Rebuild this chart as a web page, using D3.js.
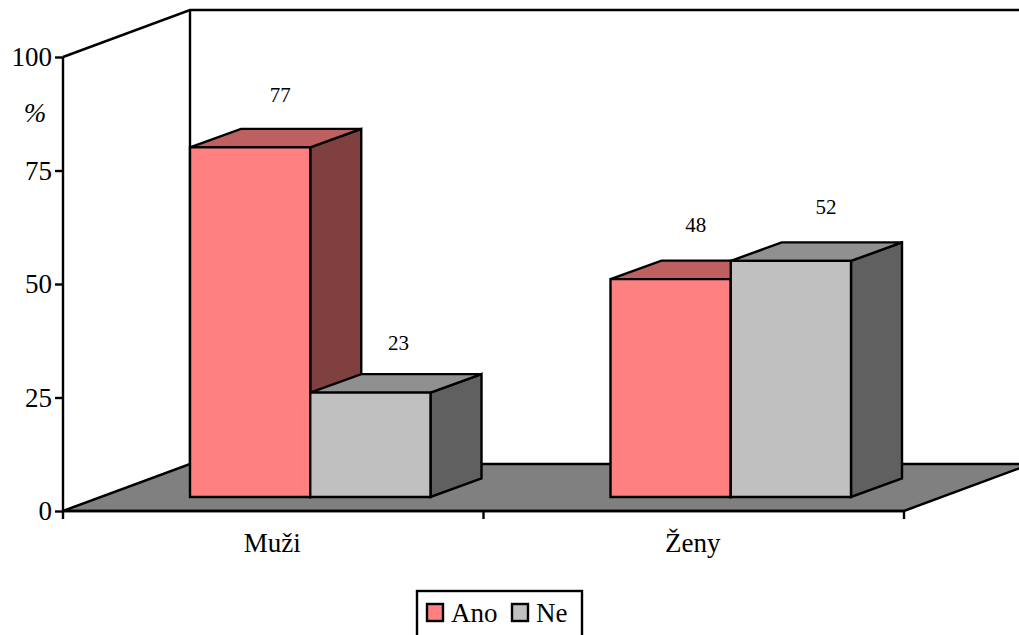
<!DOCTYPE html>
<html><head><meta charset="utf-8">
<script src="https://cdnjs.cloudflare.com/ajax/libs/d3/7.8.5/d3.min.js"></script>
<style>html,body{margin:0;padding:0;background:#fff}svg{display:block}text{font-family:"Liberation Serif",serif;fill:#000}</style>
</head><body><svg id="c" width="1019" height="635"></svg>
<script>
const categories = ["Muži", "Ženy"];
const seriesNames = ["Ano", "Ne"];
const ano = [77, 48];
const ne = [23, 52];
const valueTicks = [0, 25, 50, 75, 100];
const axisTitle = "%";
const labelNudge = {Ano: [[30, 0], [25, 2]], Ne: [[28, -2], [35, 2]]};
const colors = {Ano: {front: "#FF8080", top: "#BF6060", side: "#804040"}, Ne: {front: "#C0C0C0", top: "#909090", side: "#606060"}};

const W = 1019, H = 635, SW = 2.4;
const svg = d3.select("#c");
const y = d3.scaleLinear().domain([0, 100]).range([511, 57]);
const x0 = d3.scaleBand().domain(categories).range([63, 904]).paddingInner(0).paddingOuter(0);
const gapFrac = 90 / 420.5;
const barW = x0.bandwidth() * (1 - 2 * gapFrac) / 2;
const wall = {dx: 127, dy: -47};
const barFront = {dx: 37, dy: -14};
const barDepth = {dx: 51, dy: -18.5};
const line = d3.line();
const poly = (pts, fill) => svg.append("path").attr("d", line(pts) + "Z").attr("fill", fill).attr("stroke", "#000").attr("stroke-width", SW).attr("stroke-linejoin", "miter");

const [xL, xR] = x0.range();
const y0 = y(0), y100 = y(100);
// walls
svg.append("path").attr("d", line([[xL, y100], [xL + wall.dx, y100 + wall.dy], [W, y100 + wall.dy]])).attr("fill", "none").attr("stroke", "#000").attr("stroke-width", SW);
svg.append("path").attr("d", line([[xL + wall.dx, y100 + wall.dy], [xL + wall.dx, y0 + wall.dy]])).attr("fill", "none").attr("stroke", "#000").attr("stroke-width", SW);
// floor
svg.append("path").attr("d", line([[xL, y0], [xL + wall.dx, y0 + wall.dy], [xR + wall.dx, y0 + wall.dy], [xR, y0]]) + "Z").attr("fill", "#808080").attr("stroke", "#000").attr("stroke-width", SW);
// axes
const yAxis = d3.axisLeft(y).tickValues(valueTicks).tickSize(8).tickPadding(3);
const gy = svg.append("g").attr("transform", `translate(${xL},0)`).call(yAxis);
gy.selectAll("path,line").attr("stroke", "#000").attr("stroke-width", SW);
gy.selectAll("path").attr("d", `M0,${y100}V${y0}`);
gy.selectAll("text").attr("font-family", "Liberation Serif").attr("font-size", 27).attr("fill", "#000");
svg.append("path").attr("d", line([[xL, y0], [xR, y0]])).attr("stroke", "#000").attr("stroke-width", SW);
const xTicks = [xL, xL + x0.bandwidth(), xR];
svg.selectAll("line.xt").data(xTicks).enter().append("line").attr("class", "xt")
  .attr("x1", d => d).attr("x2", d => d).attr("y1", y0).attr("y2", y0 + 8).attr("stroke", "#000").attr("stroke-width", SW);
svg.selectAll("text.cat").data(categories).enter().append("text").attr("class", "cat")
  .attr("x", d => x0(d) + x0.bandwidth() / 2 - 1).attr("y", 552).attr("text-anchor", "middle").attr("font-size", 27).text(d => d);
svg.append("text").attr("x", 35).attr("y", 122).attr("text-anchor", "middle").attr("font-size", 27).attr("font-style", "italic").text(axisTitle);

// bars
const series = {Ano: ano, Ne: ne};
categories.forEach((c, i) => {
  seriesNames.forEach((s, j) => {
    const v = series[s][i];
    const xa = x0(c) + x0.bandwidth() * gapFrac + barFront.dx + j * barW;
    const xb = xa + barW;
    const yb = y0 + barFront.dy, yt = y(v) + barFront.dy;
    const d = barDepth, col = colors[s];
    poly([[xb, yt], [xb + d.dx, yt + d.dy], [xb + d.dx, yb + d.dy], [xb, yb]], col.side);
    poly([[xa, yt], [xa + d.dx, yt + d.dy], [xb + d.dx, yt + d.dy], [xb, yt]], col.top);
    poly([[xa, yt], [xb, yt], [xb, yb], [xa, yb]], col.front);
  });
});
categories.forEach((c, i) => {
  seriesNames.forEach((s, j) => {
    const v = series[s][i];
    const xa = x0(c) + x0.bandwidth() * gapFrac + barFront.dx + j * barW;
    svg.append("text").attr("x", xa + barW / 2 + labelNudge[s][i][0]).attr("y", y(v) + barFront.dy - 45 + labelNudge[s][i][1] * -1)
      .attr("text-anchor", "middle").attr("font-size", 21).text(v);
  });
});
// legend
const lg = svg.append("g");
lg.append("rect").attr("x", 417).attr("y", 591).attr("width", 165).attr("height", 46).attr("fill", "#fff").attr("stroke", "#000").attr("stroke-width", SW);
const lgX = {Ano: 427, Ne: 512};
seriesNames.forEach(s => {
  lg.append("rect").attr("x", lgX[s]).attr("y", 604).attr("width", 16).attr("height", 17).attr("fill", colors[s].front).attr("stroke", "#000").attr("stroke-width", SW);
  lg.append("text").attr("x", lgX[s] + 24).attr("y", 622).attr("font-size", 27).text(s);
});
</script></body></html>
